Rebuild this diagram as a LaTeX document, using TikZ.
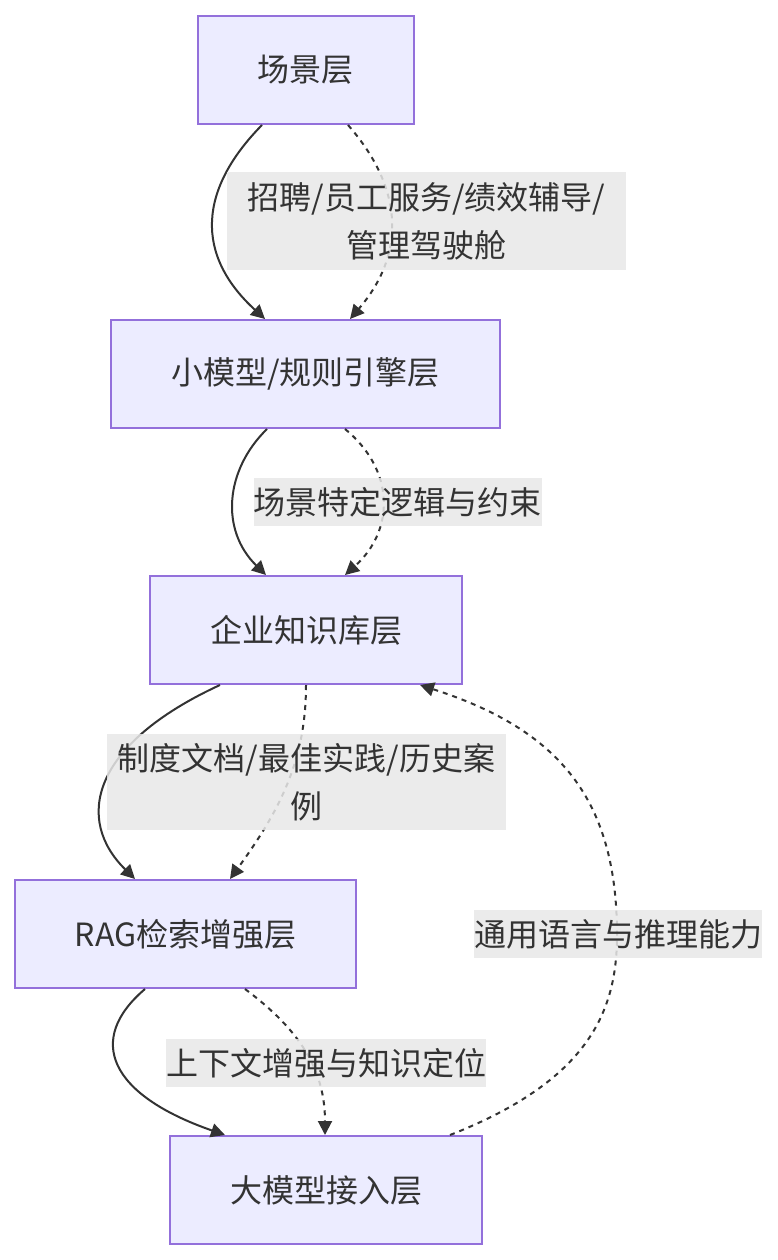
\documentclass[tikz,border=0pt]{standalone}
\usepackage{fontspec}
\setmainfont{Noto Sans CJK SC}
\usetikzlibrary{arrows.meta}
\definecolor{layerfill}{HTML}{ECECFF}
\definecolor{layerline}{HTML}{9370DB}
\definecolor{ink}{HTML}{333333}
\definecolor{labelfill}{HTML}{E8E8E8}
\begin{document}
\begin{tikzpicture}[x=1pt,y=-1pt,
    layer/.style={draw=layerline, fill=layerfill, line width=2pt, minimum height=108pt,
      inner xsep=60pt, text=ink, font=\fontsize{32}{48}\selectfont},
    flow/.style={draw=ink, line width=2pt, -{Triangle[length=14pt,width=14pt]}},
    weak/.style={flow, dash pattern=on 5pt off 5pt},
    edgelabel/.style={fill=labelfill, fill opacity=0.85, text opacity=1, text=ink,
      inner xsep=0pt, inner ysep=0pt, minimum height=48pt, align=center,
      font=\fontsize{32}{48}\selectfont}]
    \useasboundingbox (0,0) rectangle (777,1260);
    % Layers
    \node[layer] (scene) at (305.5,70)  {场景层};
    \node[layer] (rule)  at (305.5,374) {小模型/规则引擎层};
    \node[layer] (kb)    at (306,630)   {企业知识库层};
    \node[layer] (rag)   at (185.5,934) {RAG检索增强层};
    \node[layer] (llm)   at (326,1190)  {大模型接入层};
    % Edges between layers
    \draw[flow] ([xshift=-43.5pt]scene.south) .. controls (198,190) and (195,255) .. ([xshift=-40.5pt]rule.north);
    \draw[weak] ([xshift=42.5pt]scene.south) .. controls (405,190) and (405,255) .. ([xshift=44.5pt]rule.north);
    \draw[flow] ([xshift=-38.5pt]rule.south) .. controls (225,470) and (220,530) .. ([xshift=-40pt]kb.north);
    \draw[weak] ([xshift=39.5pt]rule.south) .. controls (395,470) and (395,530) .. ([xshift=39pt]kb.north);
    \draw[flow] ([xshift=-86pt]kb.south) .. controls (90,745) and (75,820) .. ([xshift=-50.5pt]rag.north);
    \draw[weak] (kb.south) .. controls (306,760) and (280,810) .. ([xshift=44.5pt]rag.north);
    \draw[flow] ([xshift=-40.5pt]rag.south) .. controls (85,1040) and (110,1095) .. ([xshift=-101pt]llm.north);
    \draw[weak] ([xshift=59.5pt]rag.south) .. controls (300,1030) and (325,1070) .. ([xshift=-1pt]llm.north);
    % Feedback from the large model
    \coordinate (turn) at (617,935);
    \draw[weak] ([xshift=124pt]llm.north) .. controls (590,1080) and (617,1010) .. (turn)
        .. controls (617,800) and (560,730) .. ([xshift=114pt]kb.south);
    % Edge labels
    \node[edgelabel, minimum width=399pt, minimum height=98pt] (hrLabel) at (426.5,221) {招聘/员工服务/绩效辅导/\\管理驾驶舱};
    \node[edgelabel] (logicLabel) at (397.5,502) {场景特定逻辑与约束};
    \node[edgelabel, minimum width=399pt, minimum height=96pt] (docLabel) at (306.5,782) {制度文档/最佳实践/历史案\\例};
    \node[edgelabel] (ctxLabel) at (326,1063) {上下文增强与知识定位};
    \node[edgelabel] (llmLabel) at (618,934) {通用语言与推理能力};
\end{tikzpicture}
\end{document}
